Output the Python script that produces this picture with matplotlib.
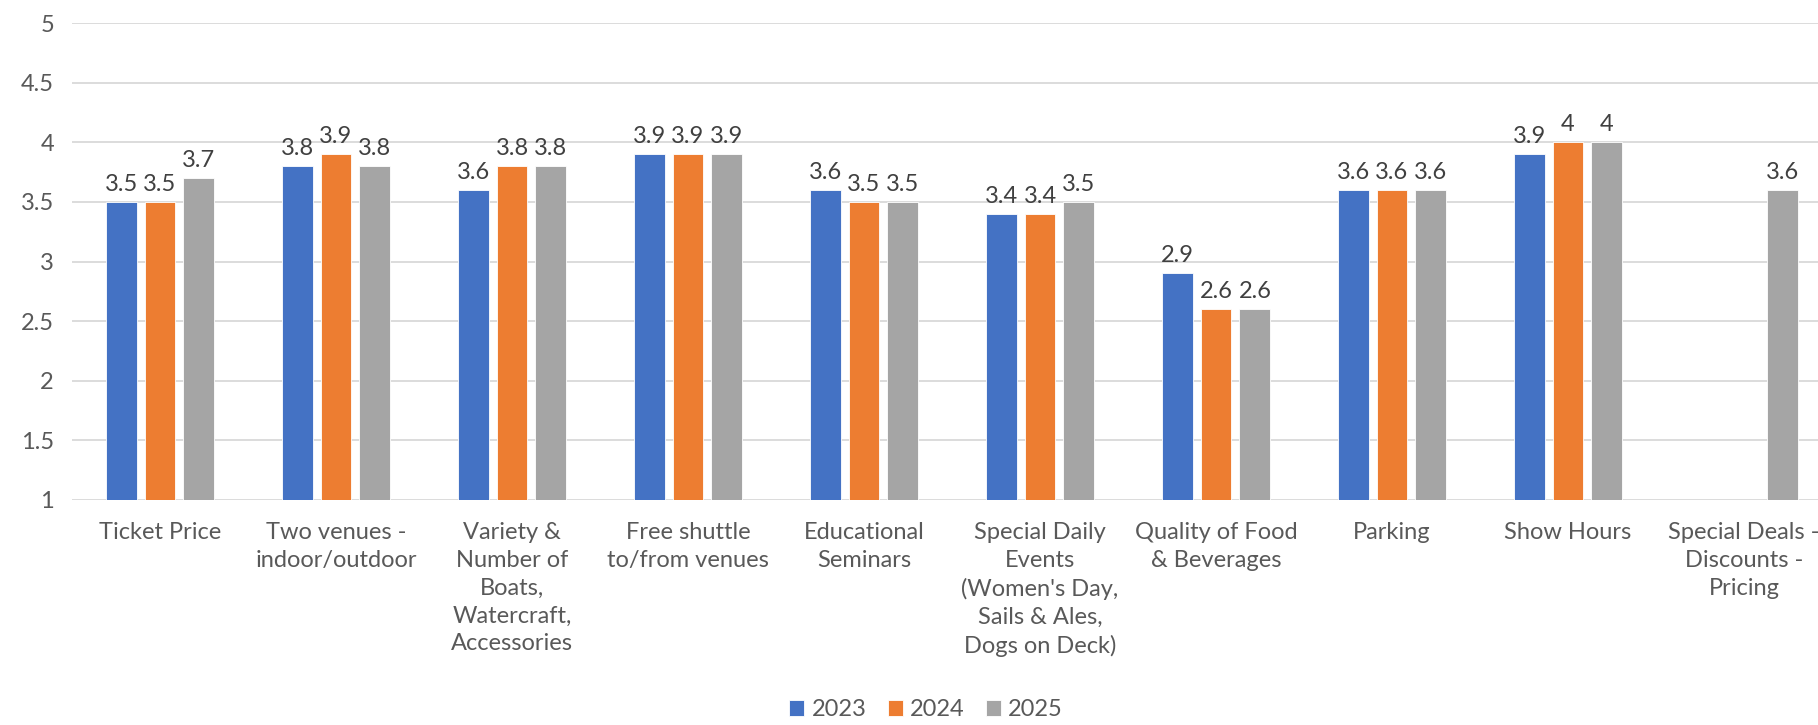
import numpy as np
import matplotlib.pyplot as plt

plt.rcParams['font.family'] = ['Lato', 'DejaVu Sans']

categories = ["Ticket Price", "Two venues -\nindoor/outdoor",
              "Variety &\nNumber of\nBoats,\nWatercraft,\nAccessories",
              "Free shuttle\nto/from venues", "Educational\nSeminars",
              "Special Daily\nEvents\n(Women's Day,\nSails & Ales,\nDogs on Deck)",
              "Quality of Food\n& Beverages", "Parking", "Show Hours",
              "Special Deals -\nDiscounts -\nPricing"]
years = ["2023", "2024", "2025"]
vals_2023 = [3.5, 3.8, 3.6, 3.9, 3.6, 3.4, 2.9, 3.6, 3.9, np.nan]
vals_2024 = [3.5, 3.9, 3.8, 3.9, 3.5, 3.4, 2.6, 3.6, 4.0, np.nan]
vals_2025 = [3.7, 3.8, 3.8, 3.9, 3.5, 3.5, 2.6, 3.6, 4.0, 3.6]
yticks = [1, 1.5, 2, 2.5, 3, 3.5, 4, 4.5, 5]

colors = ["#4472C4", "#ED7D31", "#A5A5A5"]

fig = plt.figure(figsize=(18.18, 7.25), dpi=100)
ax = fig.add_axes([72 / 1818, 225 / 725, 1760 / 1818, 477 / 725])

x = np.arange(len(categories))
width = 0.175
pitch = 0.221
for i, (vals, c, yr) in enumerate(zip([vals_2023, vals_2024, vals_2025], colors, years)):
    pos = x + (i - 1) * pitch
    heights = np.array(vals) - 1
    ax.bar(pos, heights, width, bottom=1, color=c, label=yr,
           edgecolor="white", linewidth=0.6, zorder=3)
    for px, v in zip(pos, vals):
        if np.isnan(v):
            continue
        ax.annotate(f"{v:g}", (px, v), xytext=(0, 5), textcoords="offset points",
                    ha="center", va="bottom", fontsize=17, color="#404040")

ax.set_xlim(-0.5, len(categories) - 0.5)
ax.set_ylim(1, 5)
ax.set_yticks(yticks)
ax.set_yticklabels([f"{t:g}" for t in yticks])
ax.set_xticks(x)
ax.set_xticklabels(categories, fontsize=17, color="#595959", linespacing=1.4, va="top")
ax.tick_params(axis="y", length=0, pad=13, labelsize=17, labelcolor="#595959")
ax.tick_params(axis="x", length=0, pad=16)
ax.grid(axis="y", color="#D9D9D9", linewidth=1.3, zorder=0)
for s in ax.spines.values():
    s.set_visible(False)

fig.legend(loc="center", bbox_to_anchor=(926 / 1818, 15 / 725), ncol=3, frameon=False,
           fontsize=17, labelcolor="#595959", handlelength=0.65, handleheight=0.65,
           handletextpad=0.3, columnspacing=0.9)

fig.savefig("out.png", dpi=100)
